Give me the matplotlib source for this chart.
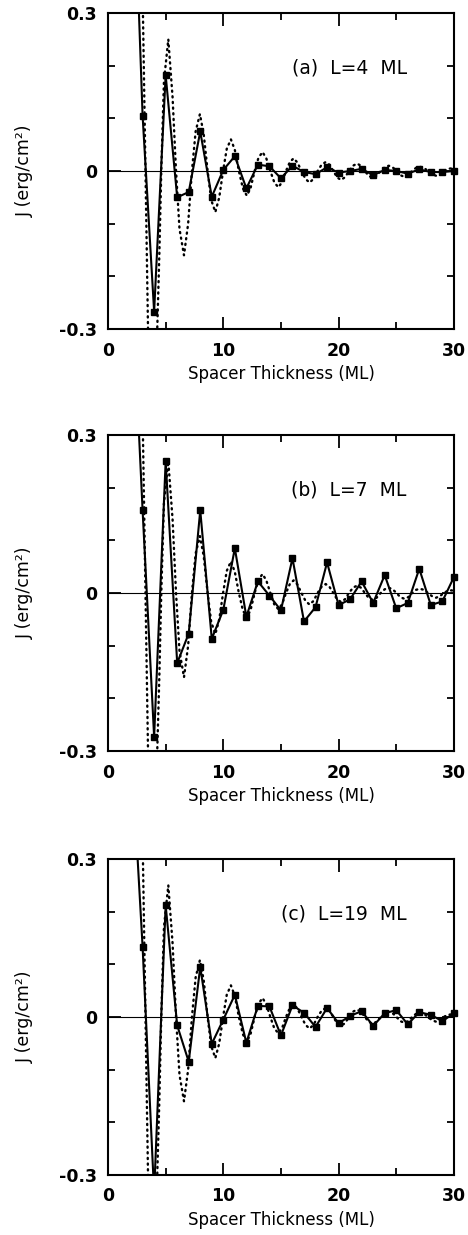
import numpy as np
import matplotlib
matplotlib.use("Agg")
import matplotlib.pyplot as plt

plt.rcParams['axes.unicode_minus'] = False
plt.rcParams['font.family'] = ['DejaVu Sans']

# spacer thickness (ML) for the calculated points
spacer = [2, 3, 4, 5, 6, 7, 8, 9, 10, 11, 12, 13, 14, 15, 16,
          17, 18, 19, 20, 21, 22, 23, 24, 25, 26, 27, 28, 29, 30]

# J (erg/cm^2), solid line with squares
J_L4 = [0.72, 0.105, -0.267, 0.182, -0.050, -0.040, 0.075, -0.049, 0.002, 0.028,
        -0.033, 0.012, 0.009, -0.014, 0.010, -0.002, -0.006, 0.007, -0.003, 0.0,
        0.004, -0.008, 0.002, 0.0, -0.005, 0.003, -0.002, -0.002, 0.0]
J_L7 = [0.62, 0.157, -0.273, 0.250, -0.133, -0.077, 0.157, -0.087, -0.032, 0.085,
        -0.045, 0.022, -0.005, -0.033, 0.066, -0.054, -0.027, 0.058, -0.023, -0.012,
        0.022, -0.019, 0.034, -0.029, -0.019, 0.046, -0.023, -0.016, 0.030]
J_L19 = [0.52, 0.133, -0.335, 0.212, -0.016, -0.085, 0.095, -0.051, -0.005, 0.042,
         -0.049, 0.021, 0.020, -0.035, 0.022, 0.008, -0.019, 0.017, -0.012, 0.002,
         0.011, -0.017, 0.007, 0.013, -0.014, 0.009, 0.004, -0.008, 0.007]

# dotted curve (same in all panels)
dot_x = [2.85, 3.03, 3.25, 3.47, 3.87, 4.27, 4.45, 4.62, 4.85, 5.23, 5.6, 5.9, 6.2,
         6.59, 6.95, 7.28, 7.6, 7.97, 8.3, 8.64, 8.95, 9.31, 9.65, 9.98, 10.3, 10.66,
         11.0, 11.35, 11.7, 12.04, 12.37, 12.72, 13.05, 13.4, 13.73, 14.08, 14.43,
         14.78, 15.1, 15.44, 15.77, 16.1, 16.43, 16.78, 17.13, 17.48, 17.83, 18.18,
         18.53, 18.88, 19.2, 19.54, 19.87, 20.2, 20.55, 20.9, 21.25, 21.6, 21.94,
         22.28, 22.6, 22.95, 23.3, 23.65, 24.0, 24.35, 24.69, 25.02, 25.36, 25.7,
         26.04, 26.38, 26.72, 27.05, 27.4, 27.75, 28.1, 28.45, 28.8, 29.12, 29.46,
         29.8, 30.0]
dot_y = [0.55, 0.30, 0.0, -0.30, -0.48, -0.30, -0.16, 0.0, 0.17, 0.25, 0.14, 0.0, -0.11,
         -0.16, -0.10, 0.0, 0.075, 0.108, 0.07, 0.0, -0.055, -0.078, -0.05, 0.0, 0.042,
         0.06, 0.04, 0.0, -0.033, -0.047, -0.032, 0.0, 0.025, 0.036, 0.024, 0.0, -0.022,
         -0.031, -0.021, 0.0, 0.017, 0.024, 0.016, 0.0, -0.015, -0.022, -0.015, 0.0,
         0.012, 0.017, 0.012, 0.0, -0.012, -0.017, -0.012, 0.0, 0.010, 0.014, 0.010,
         0.0, -0.009, -0.013, -0.009, 0.0, 0.007, 0.010, 0.007, 0.0, -0.008, -0.011,
         -0.008, 0.0, 0.006, 0.008, 0.006, 0.0, -0.006, -0.009, -0.006, 0.0, 0.004,
         0.005, 0.004]

labels = ['(a)  L=4  ML', '(b)  L=7  ML', '(c)  L=19  ML']
series = [J_L4, J_L7, J_L19]

fig = plt.figure(figsize=(4.68, 12.35), dpi=100)
bottoms = [0.7336, 0.3919, 0.0486]
height = 0.2559

x = np.array(spacer, dtype=float)
for b, lab, J in zip(bottoms, labels, series):
    ax = fig.add_axes([0.2308, b, 0.739, height])
    y = np.array(J)
    ax.axhline(0, color='k', lw=0.8)
    ax.plot(dot_x, dot_y, color='k', lw=1.7, ls=(0, (0.5, 1.9)),
            dash_capstyle='round')
    ax.plot(x, y, color='k', lw=1.5)
    m = (x >= 3) & (np.abs(y) <= 0.3)
    ax.plot(x[m], y[m], 's', color='k', ms=4.2, clip_on=False, zorder=5)

    ax.set_xlim(0, 30)
    ax.set_ylim(-0.3, 0.3)
    ax.set_xticks([0, 10, 20, 30])
    ax.set_xticks([5, 15, 25], minor=True)
    ax.set_yticks([-0.3, 0, 0.3])
    ax.set_yticklabels(['-0.3', '0', '0.3'])
    ax.set_yticks([-0.2, -0.1, 0.1, 0.2], minor=True)
    ax.tick_params(which='both', direction='in', top=True, right=True, width=1.3)
    ax.tick_params(which='major', length=9)
    ax.tick_params(which='minor', length=5)
    ax.tick_params(axis='x', pad=9)
    ax.tick_params(axis='y', pad=8)
    for t in ax.get_xticklabels() + ax.get_yticklabels():
        t.set_fontsize(12.5)
        t.set_fontweight('bold')
    for s in ax.spines.values():
        s.set_linewidth(1.5)

    ax.set_xlabel('Spacer Thickness (ML)', fontsize=12, labelpad=4)
    ax.set_ylabel('J (erg/cm²)', fontsize=12.5, labelpad=18)
    ax.text(0.864, 0.826, lab, transform=ax.transAxes, ha='right', va='center',
            fontsize=13.5)

fig.savefig('out.png', dpi=100)
